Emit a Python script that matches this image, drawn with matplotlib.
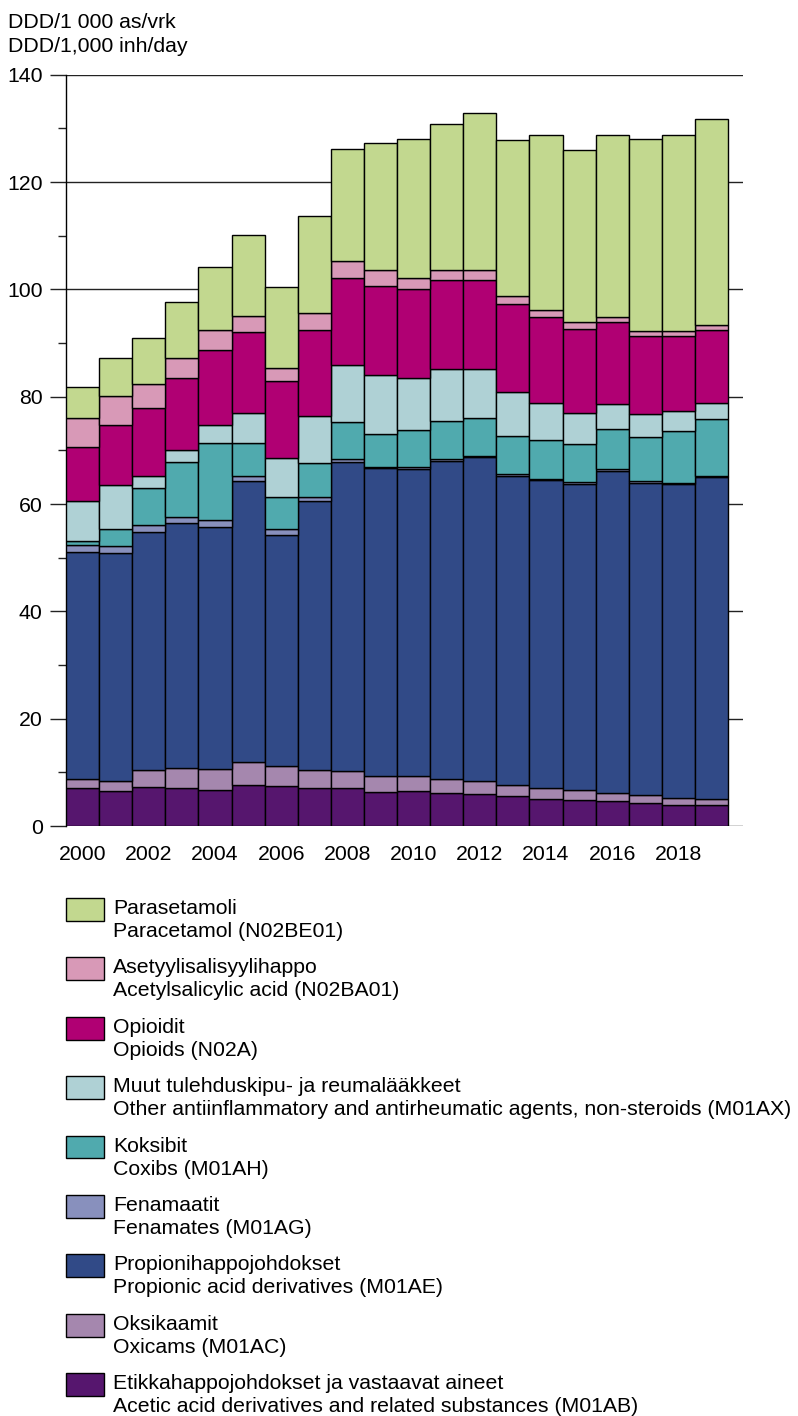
import matplotlib
matplotlib.use("Agg")
import matplotlib.pyplot as plt
from matplotlib.patches import Rectangle
import numpy as np

plt.rcParams['font.family'] = ['Liberation Sans', 'DejaVu Sans']

# DDD/1000 inhabitants/day
years = list(range(2000, 2020))

etikka = [7.0, 6.5, 7.3, 7.1, 6.8, 7.7, 7.5, 7.1, 7.1, 6.4, 6.5, 6.2, 6.0, 5.5, 5.1, 4.8, 4.6, 4.3, 4.0, 3.9]
oksikaamit = [1.8, 1.9, 3.2, 3.7, 3.8, 4.2, 3.7, 3.4, 3.2, 2.9, 2.9, 2.6, 2.4, 2.1, 1.9, 1.9, 1.6, 1.5, 1.3, 1.1]
propioni = [42.2, 42.4, 44.2, 45.7, 45.2, 52.3, 43.1, 50.1, 57.6, 57.4, 57.2, 59.3, 60.4, 57.6, 57.4, 57.1, 60.0, 58.2, 58.5, 60.0]
fenamaatit = [1.4, 1.4, 1.3, 1.1, 1.2, 1.0, 1.0, 0.7, 0.4, 0.2, 0.3, 0.3, 0.2, 0.3, 0.3, 0.3, 0.3, 0.2, 0.2, 0.3]
koksibit = [0.7, 3.1, 7.0, 10.3, 14.3, 6.2, 6.0, 6.4, 6.9, 6.2, 6.8, 7.1, 7.1, 7.1, 7.2, 7.0, 7.4, 8.2, 9.6, 10.5]
muut = [7.5, 8.2, 2.3, 2.2, 3.5, 5.5, 7.2, 8.7, 10.7, 11.0, 9.7, 9.6, 9.1, 8.2, 7.0, 5.9, 4.8, 4.3, 3.7, 3.0]
opioidit = [10.0, 11.3, 12.6, 13.3, 13.9, 15.1, 14.5, 16.1, 16.3, 16.6, 16.6, 16.6, 16.6, 16.4, 15.9, 15.7, 15.2, 14.7, 14.1, 13.7]
asetyyli = [5.4, 5.3, 4.5, 3.8, 3.7, 3.1, 2.4, 3.1, 3.1, 2.9, 2.1, 1.9, 1.8, 1.5, 1.4, 1.2, 0.9, 0.9, 0.8, 0.8]
parasetamoli = [5.8, 7.1, 8.6, 10.4, 11.8, 15.0, 15.1, 18.1, 20.9, 23.6, 25.9, 27.3, 29.2, 29.2, 32.6, 32.0, 33.9, 35.8, 36.5, 38.4]

series = [etikka, oksikaamit, propioni, fenamaatit, koksibit, muut, opioidit, asetyyli, parasetamoli]
colors = ['#56166E', '#A587AE', '#314A87', '#8890BD', '#50AAAE',
          '#AFD1D5', '#B00073', '#D899B7', '#C2D88F']
labels_fi = ['Etikkahappojohdokset ja vastaavat aineet',
             'Oksikaamit',
             'Propionihappojohdokset',
             'Fenamaatit',
             'Koksibit',
             'Muut tulehduskipu- ja reumalääkkeet',
             'Opioidit',
             'Asetyylisalisyylihappo',
             'Parasetamoli']
labels_en = ['Acetic acid derivatives and related substances (M01AB)',
             'Oxicams (M01AC)',
             'Propionic acid derivatives (M01AE)',
             'Fenamates (M01AG)',
             'Coxibs (M01AH)',
             'Other antiinflammatory and antirheumatic agents, non-steroids (M01AX)',
             'Opioids (N02A)',
             'Acetylsalicylic acid (N02BA01)',
             'Paracetamol (N02BE01)']

FS = 15.3
W, H = 798, 1416
fig = plt.figure(figsize=(W / 100, H / 100), dpi=100)
ax = fig.add_axes([66 / W, 1 - 826 / H, (743 - 66) / W, (826 - 74.7) / H])

x = np.arange(len(years))
bottom = np.zeros(len(years))
for vals, col in zip(series, colors):
    ax.bar(x, vals, width=1.0, bottom=bottom, color=col,
           edgecolor='black', linewidth=1.0, zorder=3)
    bottom += np.array(vals)

ax.set_xlim(-0.5, 19.95)
ax.set_ylim(0, 140)
ax.set_yticks(range(0, 141, 20))
ax.set_yticks(range(10, 140, 20), minor=True)
ax.set_axisbelow(True)
ax.yaxis.grid(True, which='major', color='#222222', linewidth=1.0)
for s in ['top', 'right', 'bottom']:
    ax.spines[s].set_visible(False)
ax.spines['left'].set_linewidth(1.0)
ax.tick_params(axis='y', which='major', length=11.5, width=1.0,
               color='#222222', labelsize=FS, pad=5.3)
ax.tick_params(axis='y', which='minor', length=5.8, width=1.0, color='#222222')
ax.set_xticks(x[::2])
ax.set_xticklabels([str(y) for y in years[::2]])
ax.tick_params(axis='x', length=0, labelsize=FS, pad=14)

# unit header
fig.text(8 / W, 1 - 28 / H, 'DDD/1 000 as/vrk', fontsize=FS, va='baseline')
fig.text(8 / W, 1 - 52 / H, 'DDD/1,000 inh/day', fontsize=FS, va='baseline')

# legend, top entry = top of the stack
for i, k in enumerate(range(len(series) - 1, -1, -1)):
    top = 898 + i * 59.4
    fig.patches.append(Rectangle((66 / W, 1 - (top + 22.7) / H), 37.5 / W, 22.7 / H,
                                 transform=fig.transFigure, facecolor=colors[k],
                                 edgecolor='black', linewidth=1.0))
    fig.text(113 / W, 1 - (top + 16) / H, labels_fi[k], fontsize=FS, va='baseline')
    fig.text(113 / W, 1 - (top + 39) / H, labels_en[k], fontsize=FS, va='baseline')

fig.savefig('out.png', dpi=100)
